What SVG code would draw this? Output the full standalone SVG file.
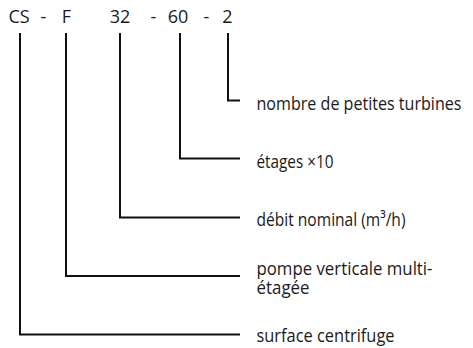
<svg xmlns="http://www.w3.org/2000/svg" width="473" height="348" viewBox="0 0 473 348">
<style>
text{font-family:"Open Sans","Liberation Sans",sans-serif;font-size:19px;fill:#1a1a1a}
.code{text-anchor:middle;font-size:18px}
.conn{fill:none;stroke:#111;stroke-width:2}
</style>
<rect width="473" height="348" fill="#fff"/>
<g id="code">
<text class="code" x="19" y="23">CS</text>
<text class="code" x="43.5" y="23">-</text>
<text class="code" x="66.5" y="23">F</text>
<text class="code" x="120" y="23">32</text>
<text class="code" x="153.5" y="23">-</text>
<text class="code" x="178" y="23">60</text>
<text class="code" x="206.5" y="23">-</text>
<text class="code" x="227.5" y="23">2</text>
</g>
<g id="connectors">
<path class="conn" d="M228 33V100.5H240"/>
<path class="conn" d="M180 33V158.5H240"/>
<path class="conn" d="M120 33V217.5H240"/>
<path class="conn" d="M66 33V276H240"/>
<path class="conn" d="M20 33V334.5H240"/>
</g>
<g id="label-turbines"><text x="256.5" y="109.5" style="font-size:18px" textLength="205" lengthAdjust="spacingAndGlyphs">nombre de petites turbines</text></g>
<g id="label-etages"><text x="256.5" y="167.5" textLength="77" lengthAdjust="spacingAndGlyphs">étages ×10</text></g>
<g id="label-debit"><text x="256.5" y="226" textLength="149" lengthAdjust="spacingAndGlyphs">débit nominal (m³/h)</text></g>
<g id="label-pompe"><text x="256.5" y="275" textLength="176" lengthAdjust="spacingAndGlyphs">pompe verticale multi-</text><text x="256.5" y="293.5" textLength="53" lengthAdjust="spacingAndGlyphs">étagée</text></g>
<g id="label-surface"><text x="256.5" y="342" textLength="138" lengthAdjust="spacingAndGlyphs">surface centrifuge</text></g>
</svg>
